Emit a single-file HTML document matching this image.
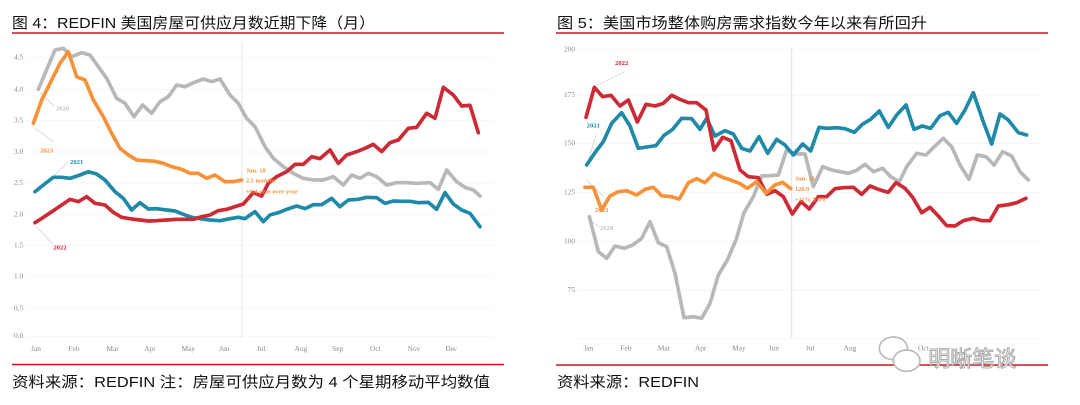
<!DOCTYPE html>
<html><head><meta charset="utf-8"><style>
html,body{margin:0;padding:0;background:#fff;width:1080px;height:405px;overflow:hidden}
svg{display:block}
.t{font-family:"Liberation Sans","Noto Sans CJK SC",sans-serif;font-size:15px;fill:#111}
.tk{font-family:"Liberation Serif",serif;font-size:22px;fill:#8a8a8a}
.lb{font-family:"Liberation Serif",serif;font-size:20px;font-weight:bold}
.an{font-family:"Liberation Serif",serif;font-size:19px;font-weight:bold;fill:#f5923e}
.s{fill:none;stroke-width:11;stroke-linejoin:round;stroke-linecap:round}
</style></head><body>
<svg width="1080" height="405" viewBox="0 0 1080 405" xmlns="http://www.w3.org/2000/svg">
<text class="t" x="12" y="28" textLength="363" lengthAdjust="spacingAndGlyphs">图 4：REDFIN 美国房屋可供应月数近期下降（月）</text>
<line x1="12" y1="33" x2="504" y2="33" stroke="#c8161d" stroke-width="1.5"/>
<line x1="12" y1="364.5" x2="504" y2="364.5" stroke="#c8161d" stroke-width="1.5"/>
<text class="t" x="12" y="387" textLength="478" lengthAdjust="spacingAndGlyphs">资料来源：REDFIN  注：房屋可供应月数为 4 个星期移动平均数值</text>

<text class="t" x="557" y="28" textLength="370" lengthAdjust="spacingAndGlyphs">图 5：美国市场整体购房需求指数今年以来有所回升</text>
<line x1="556" y1="33" x2="1048" y2="33" stroke="#c8161d" stroke-width="1.5"/>
<line x1="556" y1="365" x2="1048" y2="365" stroke="#c8161d" stroke-width="1.5"/>
<text class="t" x="557" y="387" textLength="142" lengthAdjust="spacingAndGlyphs">资料来源：REDFIN</text>

<!-- LEFT CHART -->
<g transform="scale(0.33333)">
<g stroke="#f2f2f2" stroke-width="2">
<line x1="80" y1="173" x2="1480" y2="173"/><line x1="80" y1="268" x2="1480" y2="268"/><line x1="80" y1="362" x2="1480" y2="362"/><line x1="80" y1="456" x2="1480" y2="456"/><line x1="80" y1="549" x2="1480" y2="549"/><line x1="80" y1="643" x2="1480" y2="643"/><line x1="80" y1="737" x2="1480" y2="737"/><line x1="80" y1="830" x2="1480" y2="830"/><line x1="80" y1="925" x2="1480" y2="925"/><line x1="80" y1="1010" x2="1480" y2="1010"/>
</g>
<line x1="726" y1="125" x2="726" y2="1015" stroke="#e4e4e4" stroke-width="3"/>
<g class="tk" font-size="18">
<text x="42" y="179">4.5</text><text x="42" y="274">4.0</text><text x="42" y="368">3.5</text><text x="42" y="462">3.0</text><text x="42" y="555">2.5</text><text x="42" y="649">2.0</text><text x="42" y="743">1.5</text><text x="42" y="836">1.0</text><text x="42" y="931">0.5</text><text x="42" y="1014">0.0</text>
</g>
<g class="tk" text-anchor="middle">
<text x="108" y="1053">Jan</text><text x="222" y="1053">Feb</text><text x="338" y="1053">Mar</text><text x="450" y="1053">Apr</text><text x="565" y="1053">May</text><text x="673" y="1053">Jun</text><text x="783" y="1053">Jul</text><text x="903" y="1053">Aug</text><text x="1013" y="1053">Sep</text><text x="1126" y="1053">Oct</text><text x="1242" y="1053">Nov</text><text x="1354" y="1053">Dec</text>
</g>
<g stroke="#ccc" stroke-width="2" fill="none">
<line x1="120" y1="278" x2="165" y2="320"/><line x1="105" y1="385" x2="160" y2="425"/><line x1="160" y1="530" x2="205" y2="485"/><line x1="110" y1="680" x2="160" y2="735"/>
</g>
<polyline class="s" stroke="#b8b8b8" points="115,268 165,150 190,145 215,170 245,158 270,165 295,200 320,235 350,295 375,310 402,350 428,315 455,340 480,305 505,290 530,255 555,260 580,248 610,237 635,245 660,237 690,285 715,310 740,355 765,380 795,440 820,475 850,500 880,520 910,535 940,540 970,540 1000,530 1030,555 1055,525 1080,535 1105,520 1130,530 1160,555 1190,548 1220,548 1250,550 1290,548 1315,568 1340,510 1370,545 1395,562 1420,570 1440,588"/>
<polyline class="s" stroke="#1f8aa8" points="105,575 130,555 160,532 185,532 210,535 240,525 265,515 290,522 315,540 345,575 370,595 395,630 420,608 445,627 470,626 500,630 525,633 550,643 575,652 600,656 630,660 660,662 690,656 715,652 735,656 765,635 790,665 810,645 835,638 860,628 890,618 915,626 940,614 965,614 995,595 1020,620 1045,600 1075,598 1100,592 1130,593 1155,610 1180,603 1205,604 1230,604 1255,608 1285,607 1310,628 1335,578 1360,612 1385,630 1410,640 1440,680"/>
<polyline class="s" stroke="#cc2b36" points="105,668 130,652 160,632 185,615 210,598 235,605 260,590 285,610 315,615 340,637 365,652 395,657 420,660 445,663 470,662 500,660 530,658 555,658 580,658 605,650 630,645 655,632 680,628 705,620 730,612 760,578 785,588 805,550 830,530 860,515 885,493 910,493 935,470 960,476 990,450 1015,490 1040,465 1070,455 1095,445 1120,433 1145,455 1170,428 1195,420 1225,385 1250,382 1280,340 1305,355 1330,262 1360,285 1385,318 1410,316 1435,398"/>
<polyline class="s" stroke="#f7923a" points="100,370 125,300 155,240 180,190 205,155 230,230 255,240 280,300 310,350 335,400 360,445 385,465 410,480 440,482 465,484 490,490 515,500 545,508 570,520 595,520 620,535 645,525 675,545 700,545 725,540"/>
<text class="lb" x="168" y="332" fill="#c4c4c4">2020</text>
<text class="lb" x="120" y="458" fill="#f5923e">2023</text>
<text class="lb" x="210" y="492" fill="#1f8aa8">2021</text>
<text class="lb" x="160" y="748" fill="#cc2b36">2022</text>
<text class="an" x="738" y="518">Jun. 18</text>
<text class="an" x="738" y="548">2.5 months</text>
<text class="an" x="738" y="580">+0.4 year over year</text>
</g>

<!-- RIGHT CHART -->
<g transform="translate(540,0) scale(0.33333)">
<g stroke="#f2f2f2" stroke-width="2">
<line x1="110" y1="148" x2="1500" y2="148"/><line x1="110" y1="285" x2="1500" y2="285"/><line x1="110" y1="430" x2="1500" y2="430"/><line x1="110" y1="578" x2="1500" y2="578"/><line x1="110" y1="724" x2="1500" y2="724"/><line x1="110" y1="870" x2="1500" y2="870"/><line x1="110" y1="1015" x2="1500" y2="1015"/>
</g>
<line x1="755" y1="140" x2="755" y2="1015" stroke="#e4e4e4" stroke-width="3"/>
<g class="tk" font-size="18" text-anchor="end">
<text x="105" y="154">200</text><text x="105" y="291">175</text><text x="105" y="436">150</text><text x="105" y="584">125</text><text x="105" y="730">100</text><text x="105" y="876">75</text>
</g>
<g class="tk" text-anchor="middle">
<text x="145" y="1051">Jan</text><text x="258" y="1051">Feb</text><text x="372" y="1051">Mar</text><text x="482" y="1051">Apr</text><text x="597" y="1051">May</text><text x="702" y="1051">Jun</text><text x="811" y="1051">Jul</text><text x="930" y="1051">Aug</text><text x="1043" y="1051">Sep</text><text x="1150" y="1051">Oct</text>
</g>
<g stroke="#ccc" stroke-width="2" fill="none">
<line x1="165" y1="258" x2="255" y2="215"/><line x1="145" y1="480" x2="170" y2="400"/><line x1="140" y1="540" x2="190" y2="590"/><line x1="150" y1="660" x2="178" y2="682"/>
</g>
<polyline class="s" stroke="#b8b8b8" points="148,650 175,755 200,775 225,738 253,745 278,735 305,715 330,665 355,728 380,740 405,820 432,953 460,950 485,955 510,910 535,825 562,780 588,720 612,638 640,590 665,528 690,527 715,525 740,450 768,462 795,462 820,560 848,500 875,510 900,515 925,520 948,512 975,493 1000,515 1028,505 1052,530 1078,545 1100,500 1130,460 1158,465 1183,440 1210,415 1235,440 1260,495 1287,538 1312,465 1338,470 1362,495 1388,455 1415,468 1440,515 1465,540"/>
<polyline class="s" stroke="#1f8aa8" points="140,495 165,458 190,425 215,370 245,338 270,378 295,445 320,441 348,437 372,406 398,388 425,355 455,356 480,388 500,355 525,408 555,392 580,402 605,445 630,453 657,410 683,460 710,418 735,435 760,465 788,432 812,453 837,382 860,385 890,383 915,386 943,397 967,373 992,358 1018,333 1045,382 1070,345 1098,315 1122,388 1147,378 1172,385 1200,347 1225,337 1250,370 1275,330 1300,278 1328,360 1355,432 1380,342 1405,360 1435,398 1460,405"/>
<polyline class="s" stroke="#cc2b36" points="138,352 163,262 188,290 213,286 240,318 265,300 292,366 318,313 345,318 370,310 395,286 420,298 445,308 470,308 498,330 522,450 548,412 573,422 600,510 625,530 655,533 680,583 705,572 730,590 757,642 783,605 808,627 835,590 860,590 885,566 910,563 940,562 965,583 990,558 1015,568 1045,577 1068,548 1095,565 1118,592 1145,638 1170,622 1195,648 1220,677 1245,678 1270,662 1300,655 1325,662 1350,662 1375,618 1405,614 1430,608 1458,595"/>
<polyline class="s" stroke="#f7923a" points="135,562 160,562 185,630 210,588 235,575 260,572 290,585 315,568 340,562 365,587 393,590 418,597 445,548 470,536 495,548 522,520 548,532 572,540 598,550 622,565 650,545 678,580 705,555 728,547 752,566"/>
<text class="lb" x="225" y="195" fill="#cc2b36">2022</text>
<text class="lb" x="140" y="382" fill="#1f8aa8">2021</text>
<text class="lb" x="165" y="636" fill="#f5923e">2023</text>
<text class="lb" x="180" y="690" fill="#c4c4c4">2020</text>
<text class="an" x="765" y="542">Jun. 18</text>
<text class="an" x="765" y="573">126.9</text>
<text class="an" x="765" y="604">+11% YOY</text>
<g fill="none" stroke="#bbb" stroke-width="5">
<ellipse cx="1060" cy="1045" rx="42" ry="34" fill="#fff"/>
<ellipse cx="1100" cy="1082" rx="40" ry="32" fill="#fff"/>
</g>
<text x="1165" y="1100" font-family="'Noto Sans CJK SC',sans-serif" font-size="66" fill="#fff" stroke="#aaa" stroke-width="3">明晰笔谈</text>
</g>
</svg>
</body></html>
